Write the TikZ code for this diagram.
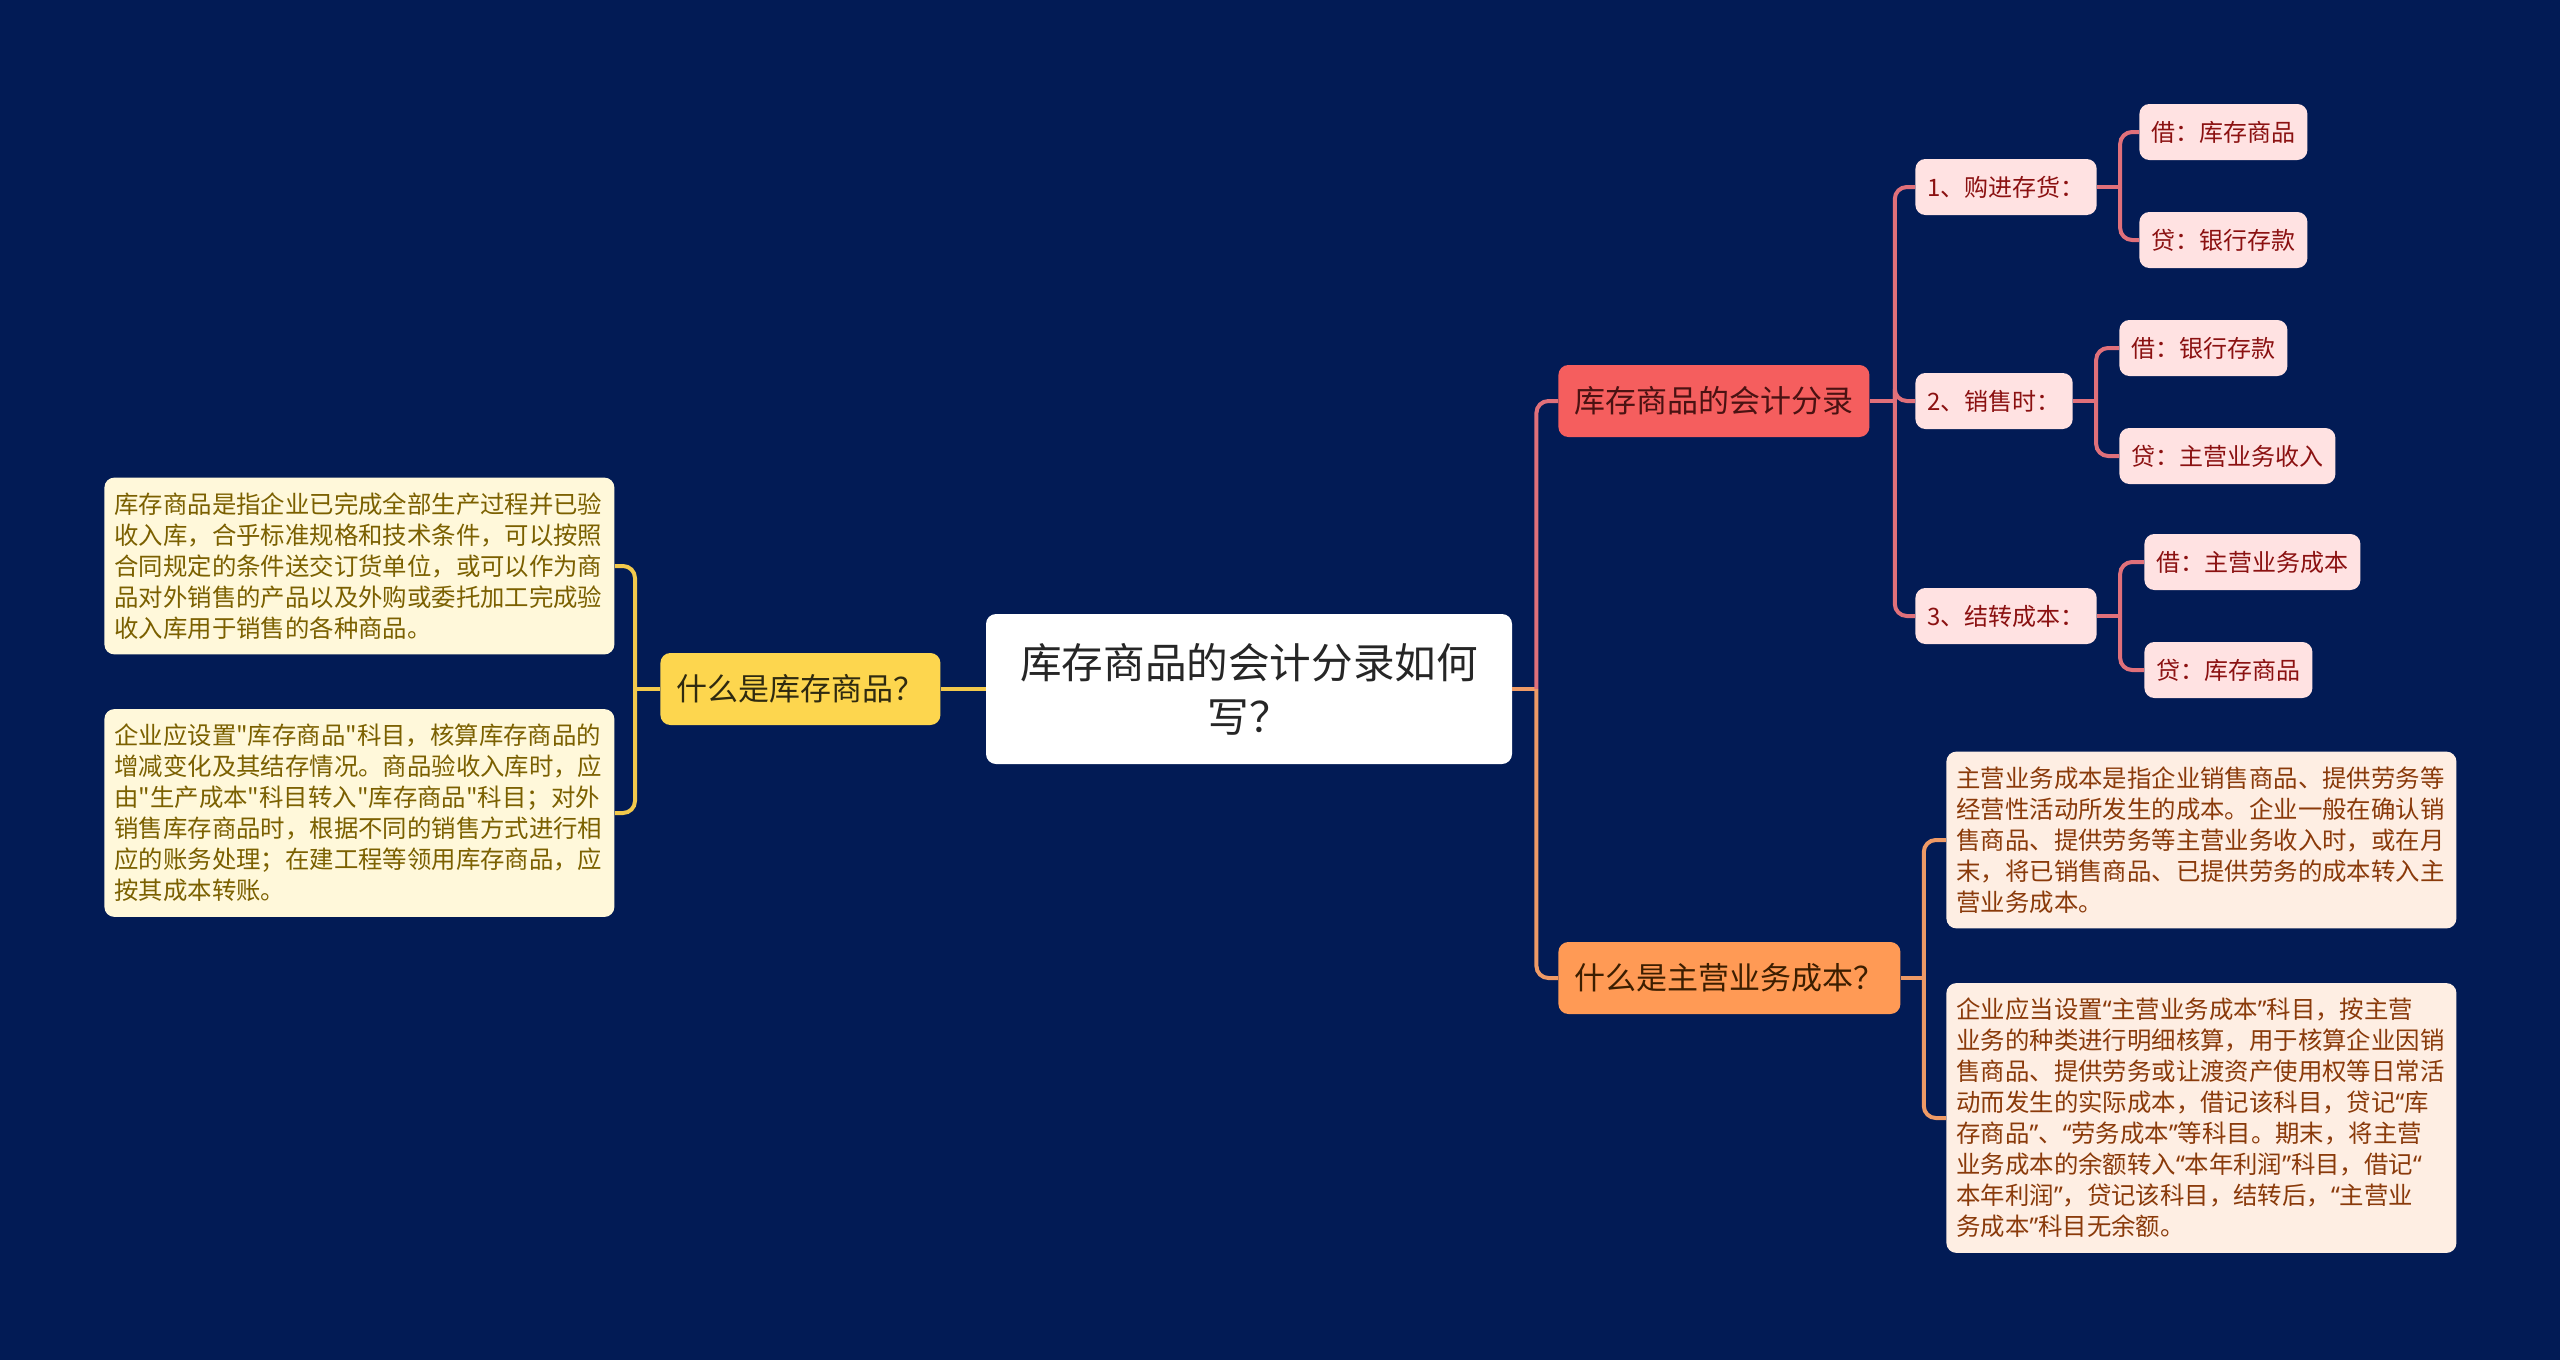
\documentclass[tikz,border=0pt]{standalone}
\usepackage{fontspec}
\setmainfont{Noto Sans CJK SC}[Ligatures=TeXOff]
\newfontfamily\quotefont{Noto Sans}[Ligatures=TeXOff]
\newcommand\lqm{{\quotefont “}}
\newcommand\rqm{{\quotefont ”}}

\definecolor{bgblue}{HTML}{021B55}
\definecolor{rootink}{HTML}{262626}
\definecolor{yelfill}{HTML}{FDD64E}
\definecolor{yelink}{HTML}{2F2A10}
\definecolor{yelline}{HTML}{F2C94C}
\definecolor{yelleaf}{HTML}{FFF8DA}
\definecolor{yelleafink}{HTML}{7B6000}
\definecolor{redfill}{HTML}{F55E5E}
\definecolor{redink}{HTML}{4A1212}
\definecolor{redline}{HTML}{E0707A}
\definecolor{pinkfill}{HTML}{FFE2E2}
\definecolor{pinkink}{HTML}{8B1111}
\definecolor{orafill}{HTML}{FF9A55}
\definecolor{oraink}{HTML}{3C1E00}
\definecolor{oraline}{HTML}{EE9A66}
\definecolor{oraleaf}{HTML}{FEEEE3}
\definecolor{oraleafink}{HTML}{8A3A0A}

\begin{document}
\begin{tikzpicture}[x=0.5pt,y=-0.5pt,
    rootbox/.style={fill=white,text=rootink,rounded corners=5pt,align=center,
      minimum width=263pt,minimum height=75pt,font=\fontsize{20.8}{27}\selectfont},
    topic/.style={rounded corners=5pt,inner xsep=8pt,inner ysep=0pt,
      minimum height=36pt,anchor=west,font=\fontsize{15.5}{18}\selectfont},
    item/.style={fill=pinkfill,text=pinkink,rounded corners=5pt,inner xsep=6pt,
      inner ysep=0pt,minimum height=28pt,anchor=west,font=\fontsize{12}{14}\selectfont},
    leaf/.style={rounded corners=5pt,inner xsep=5pt,inner ysep=7.5pt,text width=245pt,
      align=left,anchor=west,font=\fontsize{12.2}{15.5}\selectfont},
    link/.style={line width=2pt,rounded corners=6pt}]
  \useasboundingbox[fill=bgblue] (0,0) rectangle (2560,1360);

  \node[rootbox] (root) at (1249,689) {库存商品的会计分录如何\\写？};

  % left side
  \node[topic,fill=yelfill,text=yelink] (what) at (660,689) {什么是库存商品？};
  \node[leaf,fill=yelleaf,text=yelleafink] (whatA) at (104,566)
    {库存商品是指企业已完成全部生产过程并已验\\收入库，合乎标准规格和技术条件，可以按照\\合同规定的条件送交订货单位，或可以作为商\\品对外销售的产品以及外购或委托加工完成验\\收入库用于销售的各种商品。};
  \node[leaf,fill=yelleaf,text=yelleafink] (whatB) at (104,813)
    {企业应设置"库存商品"科目，核算库存商品的\\增减变化及其结存情况。商品验收入库时，应\\由"生产成本"科目转入"库存商品"科目；对外\\销售库存商品时，根据不同的销售方式进行相\\应的账务处理；在建工程等领用库存商品，应\\按其成本转账。};

  % right side
  \node[topic,fill=redfill,text=redink] (acct) at (1558,401) {库存商品的会计分录};
  \node[item] (buy) at (1915,187) {1、购进存货：};
  \node[item] (sell) at (1915,401) {2、销售时：};
  \node[item] (carry) at (1915,616) {3、结转成本：};
  \node[item] (buyD) at (2139,132) {借：库存商品};
  \node[item] (buyC) at (2139,240) {贷：银行存款};
  \node[item] (sellD) at (2119,348) {借：银行存款};
  \node[item] (sellC) at (2119,456) {贷：主营业务收入};
  \node[item] (carryD) at (2144,562) {借：主营业务成本};
  \node[item] (carryC) at (2144,670) {贷：库存商品};

  \node[topic,fill=orafill,text=oraink] (cost) at (1558,978) {什么是主营业务成本？};
  \node[leaf,fill=oraleaf,text=oraleafink] (costA) at (1946,840)
    {主营业务成本是指企业销售商品、提供劳务等\\经营性活动所发生的成本。企业一般在确认销\\售商品、提供劳务等主营业务收入时，或在月\\末，将已销售商品、已提供劳务的成本转入主\\营业务成本。};
  \node[leaf,fill=oraleaf,text=oraleafink] (costB) at (1946,1118)
    {企业应当设置\lqm 主营业务成本\rqm 科目，按主营\\业务的种类进行明细核算，用于核算企业因销\\售商品、提供劳务或让渡资产使用权等日常活\\动而发生的实际成本，借记该科目，贷记\lqm 库\\存商品\rqm 、\lqm 劳务成本\rqm 等科目。期末，将主营\\业务成本的余额转入\lqm 本年利润\rqm 科目，借记\lqm\\本年利润\rqm ，贷记该科目，结转后，\lqm 主营业\\务成本\rqm 科目无余额。};

  % connectors
  \draw[link,yelline] (root.west) -- (what.east);
  \coordinate (jw) at ([xshift=-12.5pt]what.west);
  \draw[link,yelline] (what.west) -- (jw);
  \draw[link,yelline] (jw) |- (whatA.east);
  \draw[link,yelline] (jw) |- (whatB.east);

  \coordinate (jr) at ([xshift=12pt]root.east);
  \draw[link,oraline] (root.east) -- (jr);
  \draw[link,redline] (jr) |- (acct.west);
  \draw[link,oraline] (jr) |- (cost.west);

  \coordinate (ja) at ([xshift=12.5pt]acct.east);
  \draw[link,redline] (acct.east) -- (ja);
  \foreach \n in {buy,sell,carry}
    \draw[link,redline] (ja) |- (\n.west);

  \foreach \n in {buy,sell,carry} {
    \coordinate (j\n) at ([xshift=11.5pt]\n.east);
    \draw[link,redline] (\n.east) -- (j\n);
    \draw[link,redline] (j\n) |- (\n D.west);
    \draw[link,redline] (j\n) |- (\n C.west);
  }

  \coordinate (jc) at ([xshift=11.5pt]cost.east);
  \draw[link,oraline] (cost.east) -- (jc);
  \draw[link,oraline] (jc) |- (costA.west);
  \draw[link,oraline] (jc) |- (costB.west);
\end{tikzpicture}
\end{document}
